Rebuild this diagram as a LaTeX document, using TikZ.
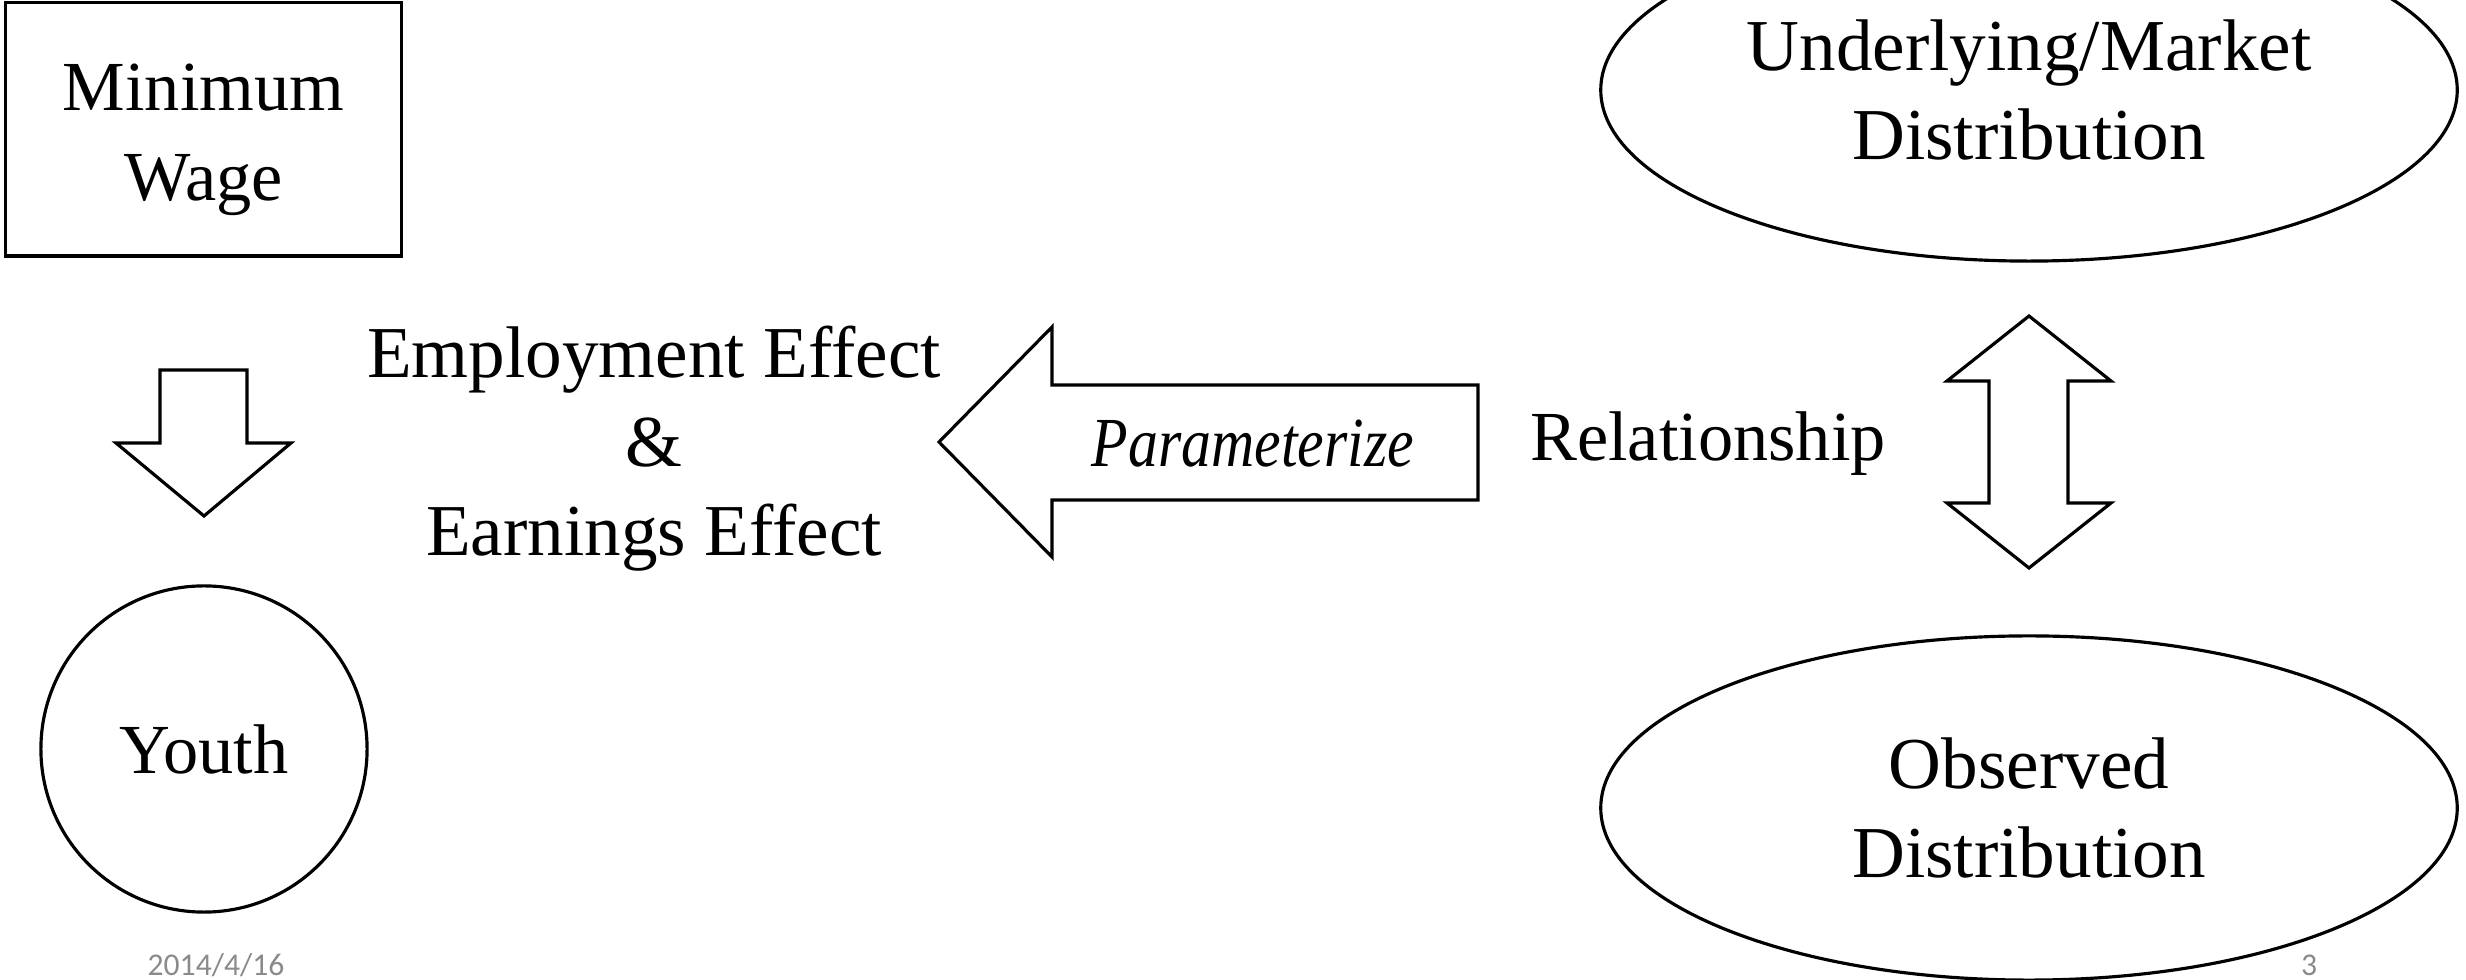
\documentclass[tikz,border=0pt]{standalone}
\usepackage{fontspec}
\setmainfont{Liberation Serif}
\newfontfamily\datefont{Carlito}
\usepackage{graphicx}
\usetikzlibrary{shapes.geometric}
\definecolor{footgray}{HTML}{8A8A8A}
\begin{document}
\begin{tikzpicture}[x=0.01cm,y=-0.01cm,
  lbl/.style={font=\fontsize{20}{25.5}\selectfont, align=center, inner sep=0pt},
  widelbl/.style={lbl, font=\fontsize{20.8}{25.3}\selectfont},
  shapeline/.style={draw=black, line width=0.9pt, line join=miter},
  foot/.style={font=\datefont\fontsize{9}{11}\selectfont, text=footgray, anchor=base, inner sep=0pt}
]
\useasboundingbox (0,0) rectangle (2466,980);
\clip (0,0) rectangle (2466,980);

% Minimum wage box
\node[shapeline, minimum width=3.95cm, minimum height=2.53cm, inner sep=0pt] (mw) at (203.5,129.5) {};
\node[lbl] (mwt) at ([yshift=-0.1cm]mw.center) {Minimum\\Wage};

% Youth circle
\node[shapeline, lbl, circle, minimum size=3.26cm] (youth) at (204,749) {Youth};

% Ellipses
\node[shapeline, widelbl, ellipse, minimum width=8.56cm, minimum height=3.42cm] (um) at (2029,90) {Underlying/Market\\Distribution};
\node[shapeline, widelbl, ellipse, minimum width=8.56cm, minimum height=3.44cm] (od) at (2029,808) {Observed\\Distribution};

% Effects text
\node[widelbl] (eff) at (654,449) {Employment Effect\\\&\\Earnings Effect};

% Relationship
\node[lbl, anchor=base] (rel) at (1708,461) {Relationship};

% Down block arrow
\draw[shapeline] (160,370) -- (247,370) -- (247,443) -- (291,443) -- (204,516) -- (116,443) -- (160,443) -- cycle;

% Left block arrow
\draw[shapeline] (939,442) -- (1052,327) -- (1052,385) -- (1478,385) -- (1478,500) -- (1052,500) -- (1052,557) -- cycle;
\node[lbl, anchor=base] (par) at (1253,467) {\scalebox{0.85}[1]{\itshape Parameterize}};

% Up-down block arrow
\draw[shapeline] (2029,316) -- (2111,381) -- (2068,381) -- (2068,503) -- (2111,503) -- (2029,568) -- (1947,503) -- (1989,503) -- (1989,381) -- (1947,381) -- cycle;

% Footer
\node[foot] (date) at (216,976) {2014/4/16};
\node[foot] (pg) at (2309,976) {3};
\end{tikzpicture}
\end{document}
